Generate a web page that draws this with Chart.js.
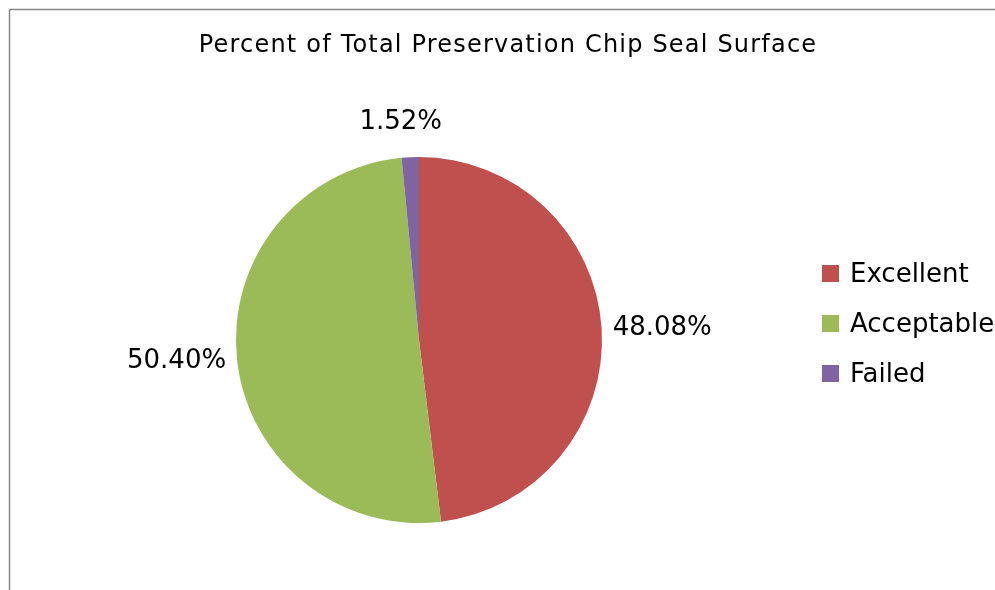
<!DOCTYPE html>
<html><head><meta charset="utf-8">
<script src="https://cdn.jsdelivr.net/npm/chart.js@4"></script>
<style>html,body{margin:0;padding:0;background:#fff}#wrap{width:995px;height:590px}</style>
</head><body><div id="wrap"><canvas id="c" width="995" height="590"></canvas></div>
<script>
const titleText = "Percent of Total Preservation Chip Seal Surface";
const categories = ["Excellent", "Acceptable", "Failed"];
const values = [48.08, 50.40, 1.52];
const colors = ["#C0504D", "#9BBB59", "#8064A2"];
const FONT = '"DejaVu Sans", sans-serif';

const deco = {
  id: 'deco',
  beforeDraw(chart) {
    const ctx = chart.ctx;
    ctx.save();
    ctx.fillStyle = '#fff';
    ctx.fillRect(0, 0, chart.width, chart.height);
    ctx.strokeStyle = '#868686';
    ctx.lineWidth = 1.5;
    ctx.beginPath();
    ctx.moveTo(9.5, chart.height);
    ctx.lineTo(9.5, 9.5);
    ctx.lineTo(chart.width, 9.5);
    ctx.stroke();
    ctx.restore();
  },
  afterDraw(chart) {
    const ctx = chart.ctx;
    ctx.save();
    ctx.fillStyle = '#000';
    ctx.font = '24px ' + FONT;
    ctx.letterSpacing = '1.2px';
    ctx.textAlign = 'left';
    ctx.textBaseline = 'middle';
    const tw = ctx.measureText(titleText).width;
    ctx.fillText(titleText, 508 - tw / 2, 46);
    ctx.letterSpacing = '0px';
    // data labels
    const meta = chart.getDatasetMeta(0);
    const total = values.reduce((a, b) => a + b, 0);
    ctx.font = '26px ' + FONT;
    meta.data.forEach((arc, i) => {
      const mid = (arc.startAngle + arc.endAngle) / 2;
      const r = arc.outerRadius;
      const cx = arc.x, cy = arc.y;
      const txt = (values[i] / total * 100).toFixed(2) + '%';
      const c = Math.cos(mid), s = Math.sin(mid);
      if (Math.abs(c) > 0.5) {
        const x = cx + c * (r + 11);
        const y = cy + s * (r + 12);
        ctx.textAlign = c > 0 ? 'left' : 'right';
        ctx.textBaseline = 'middle';
        ctx.fillText(txt, x, y);
      } else {
        ctx.textAlign = 'center';
        ctx.textBaseline = 'middle';
        ctx.fillText(txt, cx + c * (r + 12) - 9, cy + s * (r + 35));
      }
    });
    // legend
    const lx = 822, ly0 = 274, dy = 50;
    chart.data.labels.forEach((lab, i) => {
      const y = ly0 + i * dy;
      ctx.fillStyle = colors[i];
      ctx.fillRect(lx, y - 9, 17, 17);
      ctx.fillStyle = '#000';
      ctx.textAlign = 'left';
      ctx.textBaseline = 'middle';
      ctx.fillText(lab, 850, y + 1);
    });
    ctx.restore();
  }
};

new Chart(document.getElementById('c'), {
  type: 'pie',
  data: {
    labels: categories,
    datasets: [{ data: values, backgroundColor: colors, borderWidth: 0 }]
  },
  options: {
    responsive: false,
    animation: false,
    layout: { padding: { left: 236, right: 393, top: 157, bottom: 67 } },
    plugins: { legend: { display: false }, tooltip: { enabled: false }, title: { display: false } }
  },
  plugins: [deco]
});
</script></body></html>
